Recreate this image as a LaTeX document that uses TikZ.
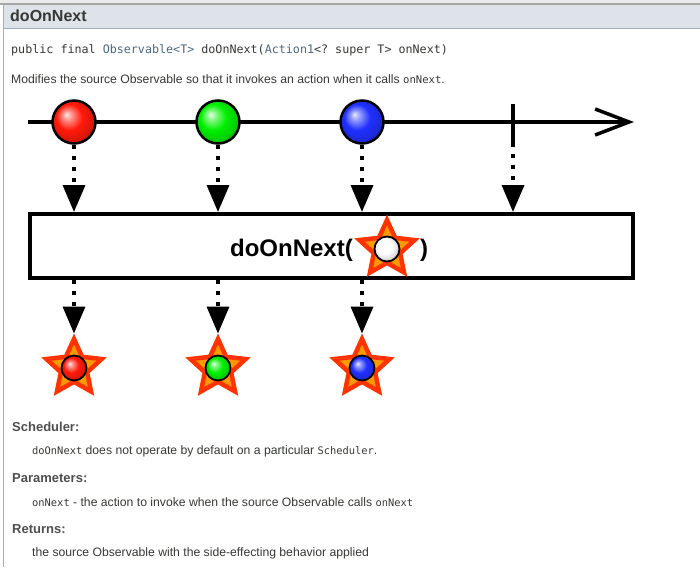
\documentclass[tikz,border=0pt]{standalone}
\usepackage{fontspec}
\setmainfont{Liberation Sans}
\setmonofont{DejaVu Sans Mono}
\usetikzlibrary{arrows.meta, positioning, shapes.geometric}
\definecolor{doctext}{HTML}{353833}
\definecolor{doclink}{HTML}{4A6782}
\definecolor{dochead}{HTML}{4E4E4E}
\definecolor{bandfill}{HTML}{DEE3E9}
\definecolor{bandline}{HTML}{9EADC0}
\definecolor{starline}{HTML}{FF3300}
\definecolor{starfill}{HTML}{FF9900}
\definecolor{mred}{HTML}{FF1A0A}
\definecolor{mgreen}{HTML}{00F000}
\definecolor{mblue}{HTML}{2030FF}
\colorlet{ballcol}{white}
\pgfdeclareradialshading[ballcol]{marbleshade}{\pgfpoint{-9bp}{9bp}}{%
	color(0bp)=(ballcol!10!white); color(5bp)=(ballcol!45!white);
	color(15bp)=(ballcol); color(27bp)=(ballcol!82!black); color(40bp)=(ballcol!55!black)}
\tikzset{
	marble/.style={draw, circle, line width=2.5pt, /utils/exec={\colorlet{ballcol}{#1}}, shading=marbleshade, minimum size=43pt, inner sep=0pt},
	smallmarble/.style={marble=#1, line width=1.8pt, minimum size=25pt},
	starburst/.style={star, star points=5, star point ratio=2.1, minimum size=58pt, inner sep=0pt, draw=starline, fill=starfill, line width=4.5pt},
	timeline/.style={line width=3.5pt},
	flow/.style={line width=3.5pt, dash pattern=on 4pt off 7pt, -{Triangle[length=27pt,width=22pt]}},
	opbox/.style={draw, fill=white, line width=4pt, minimum width=603pt, minimum height=64pt},
	doc/.style={anchor=base west, inner sep=0pt, text=doctext, font=\fontsize{12.2}{14}\selectfont},
	dochd/.style={anchor=base west, inner sep=0pt, text=dochead, font=\fontsize{13}{15}\selectfont\bfseries},
}
\begin{document}
\begin{tikzpicture}[x=1pt, y=-1pt]
	\useasboundingbox (0,0) rectangle (700,567);
	% page header
	\fill[black!8] (0,0) rectangle (700,3.5);
	\fill[black!35] (0,3.5) rectangle (700,5.5);
	\fill[bandfill] (3,5.5) rectangle (700,28);
	\draw[bandline] (3,28.5) -- (700,28.5);
	\draw[bandline] (3.5,5.5) -- (3.5,567);
	\node[doc, font=\fontsize{16}{18}\selectfont\bfseries] (title) at (10,22) {doOnNext};
	\node[doc, font=\fontsize{11.7}{14}\ttfamily] (sig) at (11,54) {public final \textcolor{doclink}{Observable<T>} doOnNext(\textcolor{doclink}{Action1}<? super T> onNext)};
	\node[doc] (descr) at (11,84) {Modifies the source Observable so that it invokes an action when it calls {\fontsize{10.6}{14}\ttfamily onNext}.};

	% source timeline
	\coordinate (tl0) at (28,122);
	\coordinate (tl1) at (634,122);
	\draw[timeline, -{Straight Barb[length=34pt,width=26pt]}] (tl0) -- (tl1);
	\coordinate (done) at (513,143);
	\draw[timeline] (513,104) -- (done);
	\foreach \i/\x/\c in {1/74/mred,2/218/mgreen,3/362/mblue} {
		\node[marble=\c] (m\i) at (\x,122) {};
	}

	% operator
	\node[opbox] (op) at (331.5,246) {};
	\node[starburst] (opstar) at (387,249) {};
	\node[smallmarble=white] (opball) at (opstar) {};
	\node[anchor=base east, inner sep=0pt, font=\fontsize{24}{26}\selectfont\bfseries] (oplabel) at (353,256) {doOnNext(};
	\node[anchor=base west, inner sep=0pt, font=\fontsize{24}{26}\selectfont\bfseries] (opclose) at (420,256) {)};

	\foreach \i in {1,2,3} {
		\draw[flow] (m\i.south) -- (m\i.south |- op.north);
	}
	\draw[flow] (done) -- (done |- op.north);

	% result stars
	\foreach \i/\x/\c in {1/74/mred,2/218/mgreen,3/362/mblue} {
		\node[starburst] (s\i) at (\x,368) {};
		\node[smallmarble=\c] (r\i) at (s\i) {};
		\draw[flow] (op.south -| s\i) -- (s\i.north);
	}

	% notes
	\node[dochd] (hsched) at (12,431) {Scheduler:};
	\node[doc] (tsched) at (32,454) {{\fontsize{10.4}{14}\ttfamily doOnNext} does not operate by default on a particular {\fontsize{10.4}{14}\ttfamily Scheduler}.};
	\node[dochd] (hparam) at (12,482) {Parameters:};
	\node[doc] (tparam) at (32,506) {{\fontsize{10.4}{14}\ttfamily onNext} - the action to invoke when the source Observable calls {\fontsize{10.4}{14}\ttfamily onNext}};
	\node[dochd] (hret) at (12,533) {Returns:};
	\node[doc] (tret) at (32,556) {the source Observable with the side-effecting behavior applied};
\end{tikzpicture}
\end{document}
